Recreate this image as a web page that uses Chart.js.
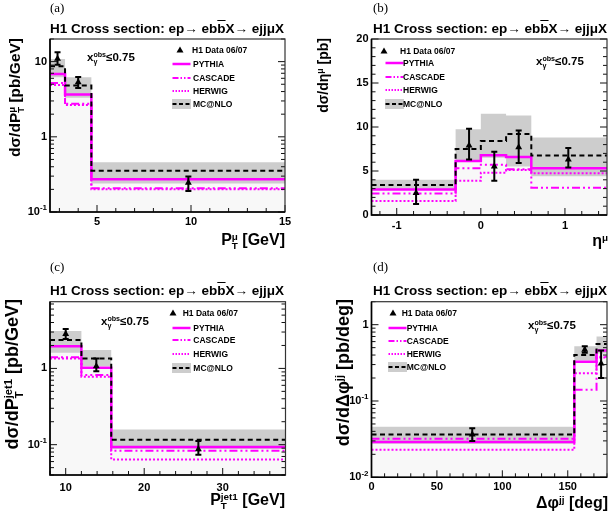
<!DOCTYPE html>
<html>
<head>
<meta charset="utf-8">
<script src="https://cdn.jsdelivr.net/npm/chart.js@4.4.1/dist/chart.umd.min.js"></script>
<style>
body { margin: 0; background: #fff; }
#page { position: relative; width: 611px; height: 520px; overflow: hidden; font-family: 'Liberation Sans', Arial, sans-serif; color: #000; }
canvas.panel { position: absolute; }
.lab { position: absolute; font-family: 'Liberation Serif', serif; font-size: 13px; line-height: 14px; }
.title { position: absolute; font-weight: bold; font-size: 13.5px; line-height: 16px; white-space: nowrap; }
.ob { text-decoration: overline; }
.xt { position: absolute; font-weight: bold; font-size: 16px; line-height: 18px; white-space: nowrap; text-align: right; }
.yt { position: absolute; width: 220px; font-weight: bold; font-size: 15.5px; line-height: 18px; white-space: nowrap; text-align: right; transform-origin: left top; transform: rotate(-90deg); }
.ss { display: inline-block; font-size: 0.62em; line-height: 0.95em; vertical-align: -0.45em; text-align: left; }
.ss span { display: block; }
.sup { font-size: 0.62em; vertical-align: 0.55em; }
.xg { position: absolute; font-weight: bold; font-size: 11.5px; line-height: 14px; white-space: nowrap; }
.leg { position: absolute; font-weight: bold; font-size: 8.5px; line-height: 12px; white-space: nowrap; }
.legsvg { position: absolute; }
</style>
</head>
<body>
<div id="page">
  <canvas id="chartA" class="panel" width="305" height="260" style="left:0;top:0"></canvas>
  <canvas id="chartB" class="panel" width="306" height="260" style="left:305px;top:0"></canvas>
  <canvas id="chartC" class="panel" width="305" height="260" style="left:0;top:260px"></canvas>
  <canvas id="chartD" class="panel" width="306" height="260" style="left:305px;top:260px"></canvas>

  <div class="lab" style="left:50px;top:1px">(a)</div>
  <div class="lab" style="left:373px;top:1px">(b)</div>
  <div class="lab" style="left:50px;top:260px">(c)</div>
  <div class="lab" style="left:373px;top:260px">(d)</div>

  <div class="title" style="left:50px;top:21px">H1 Cross section: ep→ eb<span class="ob">b</span>X→ ejjμX</div>
  <div class="title" style="left:373px;top:21px">H1 Cross section: ep→ eb<span class="ob">b</span>X→ ejjμX</div>
  <div class="title" style="left:50px;top:283px">H1 Cross section: ep→ eb<span class="ob">b</span>X→ ejjμX</div>
  <div class="title" style="left:373px;top:283px">H1 Cross section: ep→ eb<span class="ob">b</span>X→ ejjμX</div>

  <div class="xg" style="left:87px;top:50px">x<span class="ss"><span>obs</span><span>γ</span></span>≤0.75</div>
  <div class="xg" style="left:536px;top:54px">x<span class="ss"><span>obs</span><span>γ</span></span>≤0.75</div>
  <div class="xg" style="left:101px;top:314px">x<span class="ss"><span>obs</span><span>γ</span></span>≤0.75</div>
  <div class="xg" style="left:528px;top:318px">x<span class="ss"><span>obs</span><span>γ</span></span>≤0.75</div>

  <div class="xt" style="right:326px;top:231px">P<span class="ss"><span>μ</span><span>T</span></span> [GeV]</div>
  <div class="xt" style="right:3px;top:229px">η<span class="sup">μ</span></div>
  <div class="xt" style="right:326px;top:491px">P<span class="ss"><span>jet1</span><span>T</span></span> [GeV]</div>
  <div class="xt" style="right:3px;top:491px">Δφ<span class="sup">jj</span> [deg]</div>

  <div class="yt" style="left:6px;top:258px">dσ/dP<span class="ss"><span>μ</span><span>T</span></span> [pb/GeV]</div>
  <div class="yt" style="left:311px;top:258px;font-size:14px">dσ/dη<span class="sup">μ</span> [pb]</div>
  <div class="yt" style="left:3px;top:519px;font-size:18px">dσ/dP<span class="ss"><span>jet1</span><span>T</span></span> [pb/GeV]</div>
  <div class="yt" style="left:330px;top:519px;font-size:18px">dσ/dΔφ<span class="sup">jj</span> [pb/deg]</div>
</div>

<script>
// (a) muon transverse momentum
const ptMuEdges = [2.5, 3.3, 4.7, 15];
const ptMuX = [2.9, 4.0, 9.86];
const ptMuData = [10.9, 5.3, 0.245];
const ptMuUp = [13.3, 6.25, 0.296];
const ptMuDown = [9.1, 4.45, 0.19];
const ptMuPythia = [6.85, 3.66, 0.273];
const ptMuCascade = [5.2, 2.75, 0.207];
const ptMuHerwig = [4.9, 2.65, 0.2];
const ptMuMcnlo = [8.65, 4.8, 0.355];
const ptMuMcnloHi = [10.8, 6.2, 0.46];
const ptMuMcnloLo = [6.2, 3.3, 0.24];
const ptMuXTicks = [5, 10, 15];
const ptMuYTicks = [0.1, 1, 10];
const ptMuYLabels = [['10', '-1'], ['1', ''], ['10', '']];

// (b) muon pseudorapidity
const etaEdges = [-1.3, -0.3, 0, 0.3, 0.6, 1.5];
const etaX = [-0.77, -0.14, 0.16, 0.45, 1.04];
const etaData = [2.5, 7.9, 5.5, 7.7, 6.3];
const etaUp = [4.0, 9.8, 7.2, 9.6, 7.6];
const etaDown = [1.25, 6.3, 3.9, 5.9, 5.4];
const etaPythia = [2.9, 6.15, 6.8, 6.6, 5.3];
const etaCascade = [2.45, 5.3, 5.7, 5.2, 3.1];
const etaHerwig = [1.6, 3.9, 4.8, 5.1, 4.75];
const etaMcnlo = [3.4, 7.5, 8.4, 9.2, 6.75];
const etaMcnloHi = [4.0, 9.75, 11.5, 11.3, 8.8];
const etaMcnloLo = [2.95, 6.25, 6.5, 5.5, 4.4];
const etaXTicks = [-1, 0, 1];
const etaYTicks = [0, 5, 10, 15, 20];
const etaYLabels = [['0', ''], ['5', ''], ['10', ''], ['15', ''], ['20', '']];

// (c) leading jet transverse momentum
const ptJetEdges = [8, 12, 15.8, 38];
const ptJetX = [10, 13.9, 26.9];
const ptJetData = [2.83, 1.07, 0.087];
const ptJetUp = [3.29, 1.35, 0.112];
const ptJetDown = [2.43, 0.92, 0.074];
const ptJetPythia = [1.96, 1.02, 0.093];
const ptJetCascade = [1.4, 0.82, 0.083];
const ptJetHerwig = [1.35, 0.78, 0.064];
const ptJetMcnlo = [2.36, 1.35, 0.116];
const ptJetMcnloHi = [3.1, 1.74, 0.158];
const ptJetMcnloLo = [1.6, 1.07, 0.088];
const ptJetXTicks = [10, 20, 30];
const ptJetYTicks = [0.1, 1];
const ptJetYLabels = [['10', '-1'], ['1', '']];

// (d) azimuthal difference between the jets
const dphiEdges = [0, 155, 172, 180];
const dphiX = [77, 163, 175.5];
const dphiData = [0.0365, 0.47, 0.31];
const dphiUp = [0.044, 0.52, 0.46];
const dphiDown = [0.030, 0.43, 0.2];
const dphiPythia = [0.029, 0.327, 0.46];
const dphiCascade = [0.032, 0.14, 0.38];
const dphiHerwig = [0.0229, 0.231, 0.37];
const dphiMcnlo = [0.0365, 0.40, 0.56];
const dphiMcnloHi = [0.046, 0.52, 0.70];
const dphiMcnloLo = [0.0276, 0.34, 0.42];
const dphiXTicks = [0, 50, 100, 150];
const dphiYTicks = [0.01, 0.1, 1];
const dphiYLabels = [['10', '-2'], ['10', '-1'], ['1', '']];

const MAGENTA = '#ff00ff';
const FONT = "'Liberation Sans', Arial, sans-serif";
const tickFont = { family: FONT, weight: 'bold', size: 11 };

function hist(edges, vals) {
    const pts = vals.map((v, i) => ({ x: edges[i], y: v }));
    pts.push({ x: edges[edges.length - 1], y: vals[vals.length - 1] });
    return pts;
}

const frameTicks = {
    id: 'frameTicks',
    afterDraw(chart, args, opts) {
        const { ctx, chartArea: a } = chart;
        const xs = chart.scales.x, ys = chart.scales.y;
        ctx.save();
        ctx.strokeStyle = '#111';
        ctx.lineWidth = 1;
        ctx.beginPath();

        const xMajor = xs.ticks.map(t => t.value);
        for (let k = Math.ceil(xs.min / opts.xStep - 1e-9); k * opts.xStep <= xs.max + 1e-9; k++) {
            const v = k * opts.xStep;
            const px = xs.getPixelForValue(v);
            const len = xMajor.some(m => Math.abs(m - v) < 1e-6) ? 7 : 4;
            ctx.moveTo(px, a.bottom);
            ctx.lineTo(px, a.bottom - len);
        }

        const yVals = [];
        if (ys.type === 'logarithmic') {
            for (let e = Math.floor(Math.log10(ys.min)); e <= Math.ceil(Math.log10(ys.max)); e++) {
                for (let m = 1; m <= 9; m++) {
                    const v = m * Math.pow(10, e);
                    if (v >= ys.min * 0.999 && v <= ys.max * 1.001) yVals.push({ v, major: m === 1 });
                }
            }
        } else {
            for (let k = Math.ceil(ys.min / opts.yStep - 1e-9); k * opts.yStep <= ys.max + 1e-9; k++) {
                const v = k * opts.yStep;
                yVals.push({ v, major: Math.abs(v / 5 - Math.round(v / 5)) < 1e-6 });
            }
        }
        yVals.forEach(t => {
            const py = ys.getPixelForValue(t.v);
            const len = t.major ? 7 : 4;
            ctx.moveTo(a.left, py);
            ctx.lineTo(a.left + len, py);
            ctx.moveTo(a.right, py);
            ctx.lineTo(a.right - len, py);
        });
        ctx.stroke();

        ctx.strokeStyle = '#333';
        ctx.lineWidth = 1.2;
        ctx.strokeRect(a.left, a.top, a.right - a.left, a.bottom - a.top);
        ctx.strokeStyle = '#000';
        ctx.lineWidth = 1.6;
        ctx.beginPath();
        ctx.moveTo(a.left, a.top);
        ctx.lineTo(a.left, a.bottom);
        ctx.lineTo(a.right, a.bottom);
        ctx.stroke();

        // y tick labels, with the exponent raised
        ctx.fillStyle = '#000';
        ctx.textBaseline = 'middle';
        ctx.textAlign = 'right';
        ys.ticks.forEach((t, i) => {
            const [base, exp] = opts.yLabels[i];
            const py = ys.getPixelForValue(t.value);
            let x = a.left - 3;
            if (exp) {
                ctx.font = 'bold 8px ' + FONT;
                ctx.fillText(exp, x, py - 4);
                x -= ctx.measureText(exp).width;
            }
            ctx.font = 'bold 11px ' + FONT;
            ctx.fillText(base, x, py);
        });
        ctx.restore();
    }
};

const errorBars = {
    id: 'errorBars',
    afterDatasetsDraw(chart) {
        const ctx = chart.ctx;
        const ds = chart.data.datasets[0];
        const meta = chart.getDatasetMeta(0);
        const y = chart.scales.y;
        ctx.save();
        ctx.strokeStyle = '#000';
        ctx.lineWidth = 2;
        meta.data.forEach((pt, i) => {
            const top = y.getPixelForValue(ds.errUp[i]);
            const bot = y.getPixelForValue(ds.errDown[i]);
            ctx.beginPath();
            ctx.moveTo(pt.x, top);
            ctx.lineTo(pt.x, bot);
            ctx.moveTo(pt.x - 3, top);
            ctx.lineTo(pt.x + 3, top);
            ctx.moveTo(pt.x - 3, bot);
            ctx.lineTo(pt.x + 3, bot);
            ctx.stroke();
        });
        ctx.restore();
    }
};

function makePanel(id, p) {
    const stepLine = (label, vals, color, width, dash) => ({
        label,
        data: hist(p.edges, vals),
        stepped: true,
        borderColor: color,
        borderWidth: width,
        borderDash: dash,
        pointRadius: 0,
        fill: false
    });

    return new Chart(document.getElementById(id).getContext('2d'), {
        type: 'line',
        data: {
            datasets: [
                {
                    label: 'H1 Data 06/07',
                    data: p.x.map((x, i) => ({ x, y: p.data[i] })),
                    showLine: false,
                    pointStyle: 'triangle',
                    pointRadius: 4,
                    pointBorderWidth: 0,
                    backgroundColor: '#000',
                    borderColor: '#000',
                    errUp: p.up,
                    errDown: p.down
                },
                stepLine('MC@NLO', p.mcnlo, '#000', 2, [5, 3.5]),
                stepLine('PYTHIA', p.pythia, MAGENTA, 2.5, []),
                stepLine('CASCADE', p.cascade, MAGENTA, 2, [8, 3, 2, 3, 2, 3]),
                stepLine('HERWIG', p.herwig, MAGENTA, 2, [2, 2]),
                {
                    label: 'MC@NLO upper',
                    data: hist(p.edges, p.hi),
                    stepped: true,
                    borderColor: 'rgba(0,0,0,0)',
                    backgroundColor: '#cdcdcd',
                    pointRadius: 0,
                    fill: '+1'
                },
                {
                    label: 'MC@NLO lower',
                    data: hist(p.edges, p.lo),
                    stepped: true,
                    borderColor: 'rgba(0,0,0,0)',
                    pointRadius: 0,
                    fill: false
                },
                {
                    label: 'PYTHIA area',
                    data: hist(p.edges, p.pythia),
                    stepped: true,
                    borderColor: 'rgba(0,0,0,0)',
                    backgroundColor: '#f8f8f8',
                    pointRadius: 0,
                    fill: 'start'
                }
            ]
        },
        options: {
            responsive: false,
            animation: false,
            events: [],
            layout: { padding: { left: 0, top: p.padTop, right: p.padRight, bottom: 0 } },
            plugins: {
                legend: { display: false },
                tooltip: { enabled: false },
                frameTicks: { xStep: p.xStep, yStep: p.yStep, yLabels: p.yLabels }
            },
            scales: {
                x: {
                    type: 'linear',
                    min: p.xMin,
                    max: p.xMax,
                    grid: { display: false, drawTicks: false },
                    border: { display: false },
                    ticks: { font: tickFont, color: '#000', padding: p.xPad, maxRotation: 0, autoSkip: false, callback: v => String(v) },
                    afterBuildTicks: s => { s.ticks = p.xTicks.map(v => ({ value: v })); },
                    afterFit: s => { s.height = p.xHeight; }
                },
                y: {
                    type: p.log ? 'logarithmic' : 'linear',
                    min: p.yMin,
                    max: p.yMax,
                    grid: { display: false, drawTicks: false },
                    border: { display: false },
                    ticks: { display: false },
                    afterBuildTicks: s => { s.ticks = p.yTicks.map(v => ({ value: v })); },
                    afterFit: s => { s.width = p.yWidth; }
                }
            }
        },
        plugins: [errorBars, frameTicks]
    });
}

const legendItems = [
    { label: 'H1 Data 06/07', marker: true },
    { label: 'PYTHIA', color: MAGENTA, dash: '', width: 2.5 },
    { label: 'CASCADE', color: MAGENTA, dash: '6 2 1.5 2 1.5 2', width: 2 },
    { label: 'HERWIG', color: MAGENTA, dash: '1.5 1.5', width: 2 },
    { label: 'MC@NLO', color: '#000', dash: '4 2.5', width: 2, box: true }
];

function buildLegend(rowsY, markerX, dataTextX, lineX, textX) {
    const page = document.getElementById('page');
    const ns = 'http://www.w3.org/2000/svg';
    legendItems.forEach((item, i) => {
        const y = rowsY[i];
        const svg = document.createElementNS(ns, 'svg');
        svg.setAttribute('class', 'legsvg');
        svg.setAttribute('width', 20);
        svg.setAttribute('height', 12);
        svg.style.top = (y - 6) + 'px';
        if (item.marker) {
            svg.style.left = (markerX - 10) + 'px';
            const tri = document.createElementNS(ns, 'polygon');
            tri.setAttribute('points', '10,2.5 13.5,8.5 6.5,8.5');
            tri.setAttribute('fill', '#000');
            svg.appendChild(tri);
        } else {
            svg.style.left = lineX + 'px';
            if (item.box) {
                const r = document.createElementNS(ns, 'rect');
                r.setAttribute('x', 0);
                r.setAttribute('y', 1);
                r.setAttribute('width', 19);
                r.setAttribute('height', 10);
                r.setAttribute('fill', '#cdcdcd');
                svg.appendChild(r);
            }
            const ln = document.createElementNS(ns, 'line');
            ln.setAttribute('x1', 0.5);
            ln.setAttribute('x2', 18.5);
            ln.setAttribute('y1', 6);
            ln.setAttribute('y2', 6);
            ln.setAttribute('stroke', item.color);
            ln.setAttribute('stroke-width', item.width);
            if (item.dash) ln.setAttribute('stroke-dasharray', item.dash);
            svg.appendChild(ln);
        }
        page.appendChild(svg);

        const txt = document.createElement('div');
        txt.className = 'leg';
        txt.textContent = item.label;
        txt.style.left = (item.marker ? dataTextX : textX) + 'px';
        txt.style.top = (y - 6) + 'px';
        page.appendChild(txt);
    });
}

makePanel('chartA', {
    edges: ptMuEdges, x: ptMuX, data: ptMuData, up: ptMuUp, down: ptMuDown,
    pythia: ptMuPythia, cascade: ptMuCascade, herwig: ptMuHerwig,
    mcnlo: ptMuMcnlo, hi: ptMuMcnloHi, lo: ptMuMcnloLo,
    xMin: 2.5, xMax: 15, xTicks: ptMuXTicks, xStep: 1, xPad: 3,
    log: true, yMin: 0.1, yMax: 20, yTicks: ptMuYTicks, yLabels: ptMuYLabels,
    padTop: 39, padRight: 20, xHeight: 48, yWidth: 50
});

makePanel('chartB', {
    edges: etaEdges, x: etaX, data: etaData, up: etaUp, down: etaDown,
    pythia: etaPythia, cascade: etaCascade, herwig: etaHerwig,
    mcnlo: etaMcnlo, hi: etaMcnloHi, lo: etaMcnloLo,
    xMin: -1.3, xMax: 1.5, xTicks: etaXTicks, xStep: 0.2, xPad: 4,
    log: false, yMin: 0, yMax: 20, yTicks: etaYTicks, yLabels: etaYLabels, yStep: 1,
    padTop: 39, padRight: 2, xHeight: 45, yWidth: 66.5
});

makePanel('chartC', {
    edges: ptJetEdges, x: ptJetX, data: ptJetData, up: ptJetUp, down: ptJetDown,
    pythia: ptJetPythia, cascade: ptJetCascade, herwig: ptJetHerwig,
    mcnlo: ptJetMcnlo, hi: ptJetMcnloHi, lo: ptJetMcnloLo,
    xMin: 8, xMax: 38, xTicks: ptJetXTicks, xStep: 2, xPad: 6,
    log: true, yMin: 0.04, yMax: 7.5, yTicks: ptJetYTicks, yLabels: ptJetYLabels,
    padTop: 41.7, padRight: 19.5, xHeight: 45, yWidth: 50
});

makePanel('chartD', {
    edges: dphiEdges, x: dphiX, data: dphiData, up: dphiUp, down: dphiDown,
    pythia: dphiPythia, cascade: dphiCascade, herwig: dphiHerwig,
    mcnlo: dphiMcnlo, hi: dphiMcnloHi, lo: dphiMcnloLo,
    xMin: 0, xMax: 180, xTicks: dphiXTicks, xStep: 10, xPad: 3,
    log: true, yMin: 0.01, yMax: 2, yTicks: dphiYTicks, yLabels: dphiYLabels,
    padTop: 41.7, padRight: 3, xHeight: 42.7, yWidth: 66.5
});

buildLegend([50, 64.3, 77.7, 90.7, 104.3], 180, 192, 172, 193);
buildLegend([50.7, 63.3, 77.3, 90.3, 104.3], 384, 400, 385, 403);
buildLegend([312.7, 327.7, 340.3, 354.3, 367.7], 173.3, 182.7, 172, 193.3);
buildLegend([313.3, 328, 340.7, 354, 367.3], 393.3, 401.7, 388, 406.7);
</script>
</body>
</html>
